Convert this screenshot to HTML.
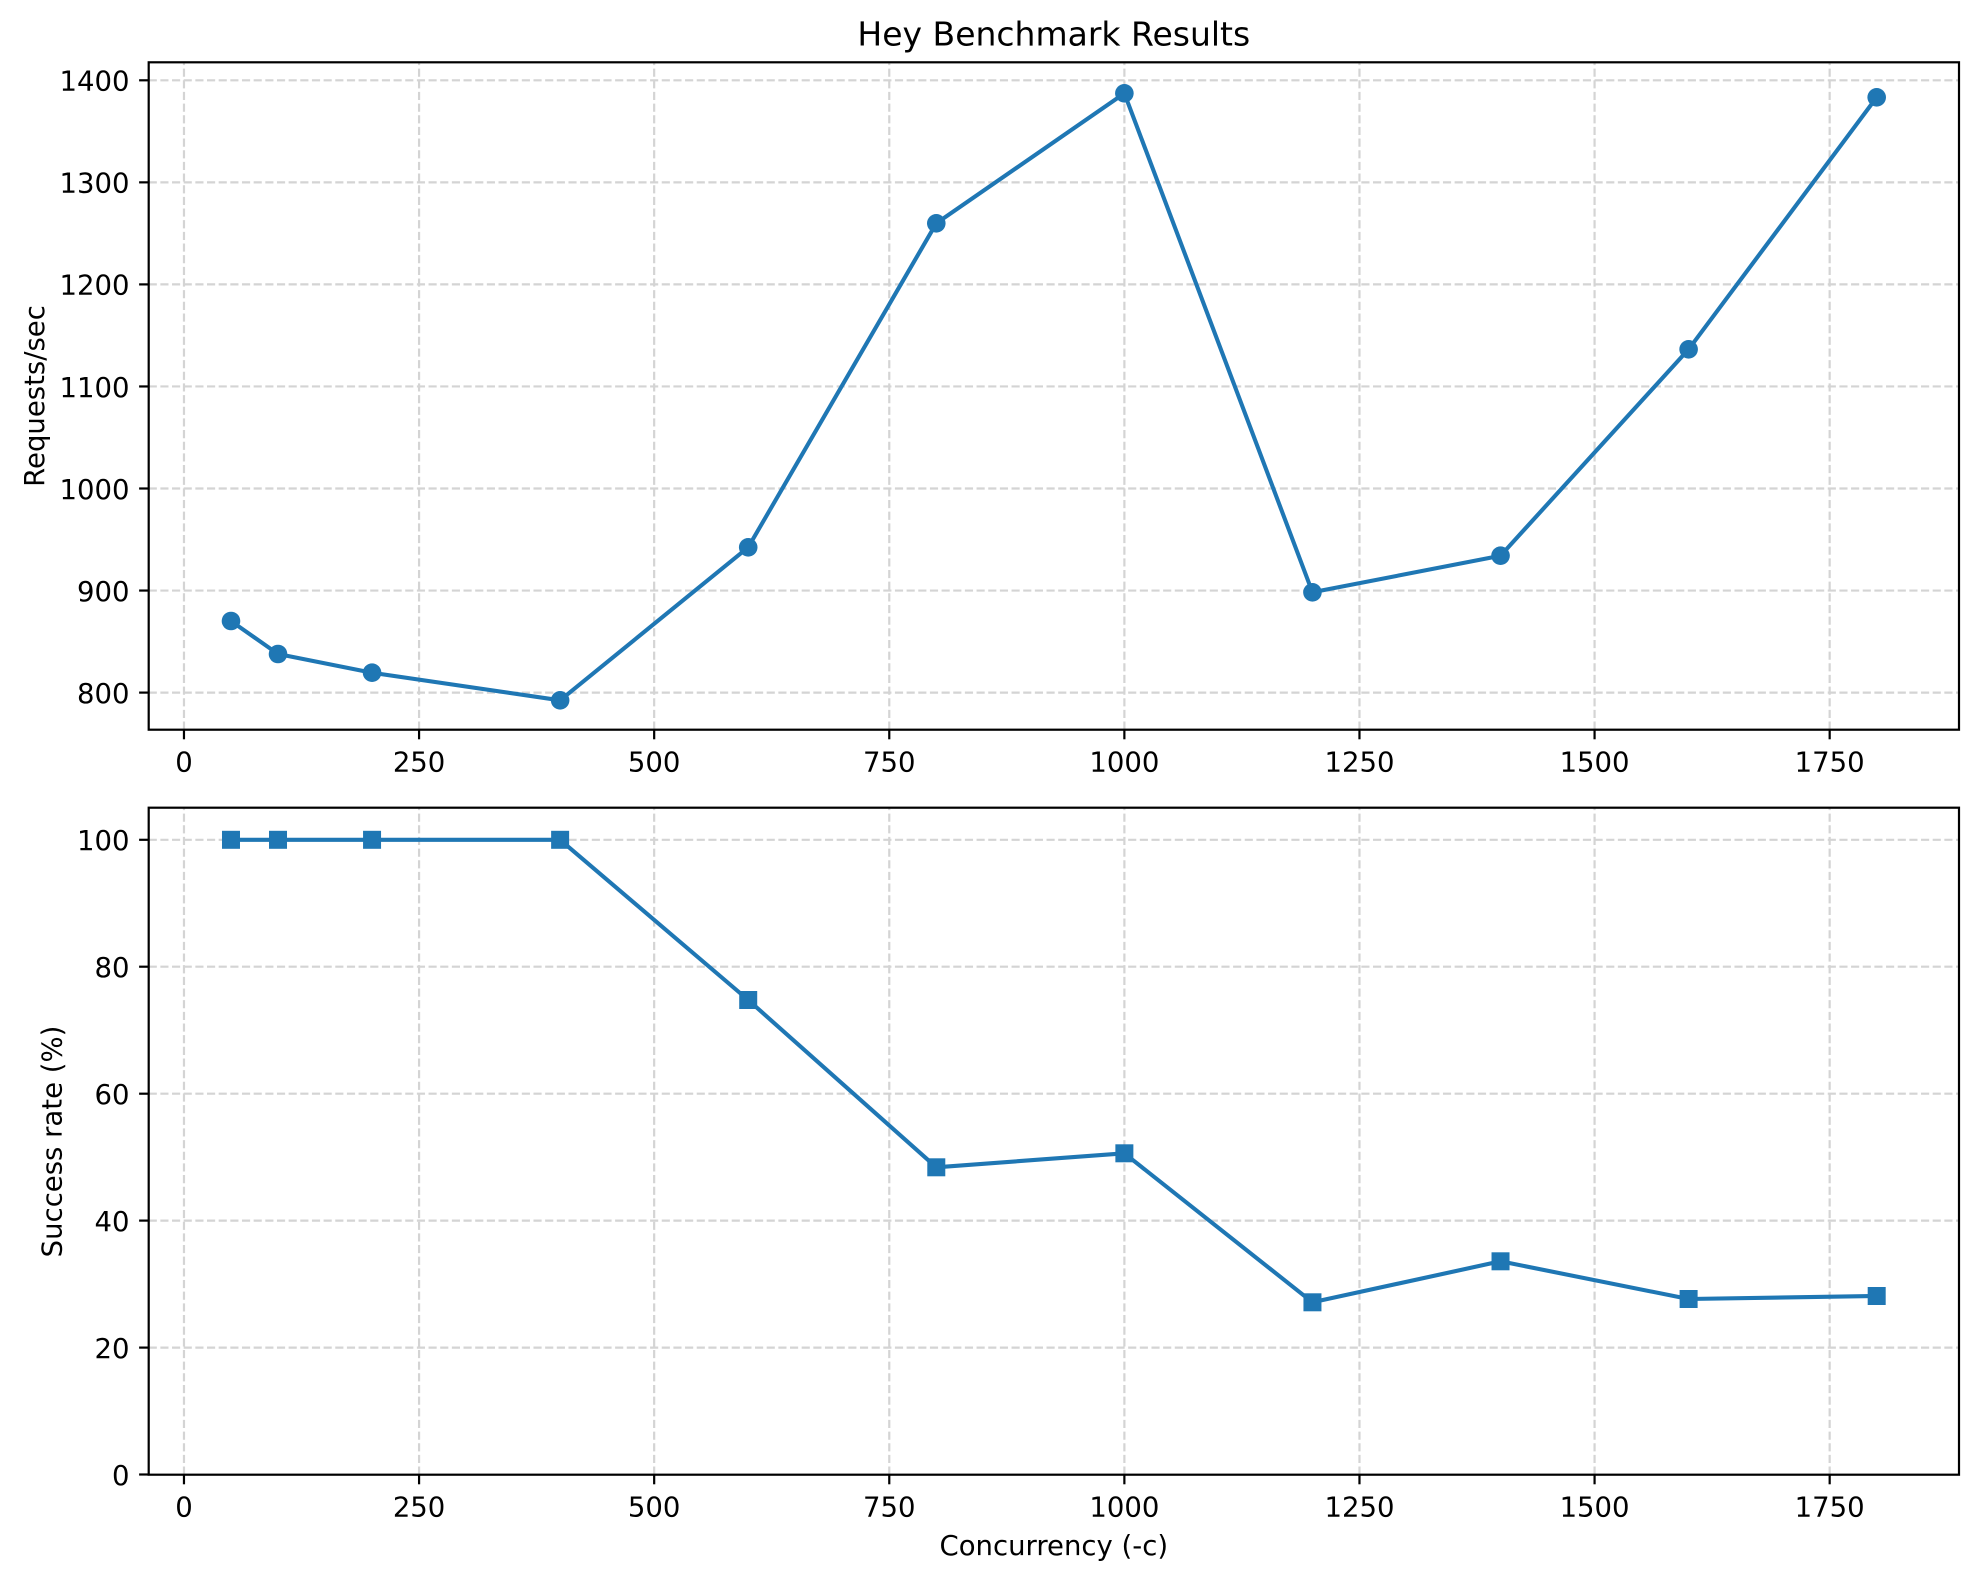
<!DOCTYPE html>
<html>
<head>
<meta charset="utf-8">
<style>
  html, body { margin: 0; padding: 0; background: #ffffff; }
  svg { display: block; }
  text { font-family: "DejaVu Sans", "Liberation Sans", sans-serif; fill: #000; }
</style>
</head>
<body>
<svg width="1979" height="1582" viewBox="0 0 1979 1582" xmlns="http://www.w3.org/2000/svg">
  <rect x="0" y="0" width="1979" height="1582" fill="#ffffff"/>

  <!-- ===== TOP AXES ===== -->
  <g stroke="#d4d4d4" stroke-width="2.2" stroke-dasharray="8.14 3.52" fill="none">
    <line x1="183.97" y1="729.7" x2="183.97" y2="62.3"/>
    <line x1="419.07" y1="729.7" x2="419.07" y2="62.3"/>
    <line x1="654.17" y1="729.7" x2="654.17" y2="62.3"/>
    <line x1="889.27" y1="729.7" x2="889.27" y2="62.3"/>
    <line x1="1124.37" y1="729.7" x2="1124.37" y2="62.3"/>
    <line x1="1359.47" y1="729.7" x2="1359.47" y2="62.3"/>
    <line x1="1594.57" y1="729.7" x2="1594.57" y2="62.3"/>
    <line x1="1829.67" y1="729.7" x2="1829.67" y2="62.3"/>
    <line x1="148.7" y1="80.3" x2="1959" y2="80.3"/>
    <line x1="148.7" y1="182.35" x2="1959" y2="182.35"/>
    <line x1="148.7" y1="284.4" x2="1959" y2="284.4"/>
    <line x1="148.7" y1="386.45" x2="1959" y2="386.45"/>
    <line x1="148.7" y1="488.5" x2="1959" y2="488.5"/>
    <line x1="148.7" y1="590.55" x2="1959" y2="590.55"/>
    <line x1="148.7" y1="692.6" x2="1959" y2="692.6"/>
  </g>
  <polyline fill="none" stroke="#1f77b4" stroke-width="4.1" stroke-linejoin="round" stroke-linecap="square"
    points="230.99,621 278.01,654 372.05,672.7 560.13,700.3 748.21,547.3 936.29,223.3 1124.37,93.3 1312.45,592.3 1500.53,555.7 1688.61,349.3 1876.69,97.3"/>
  <g fill="#1f77b4">
    <circle cx="230.99" cy="621" r="9.3"/>
    <circle cx="278.01" cy="654" r="9.3"/>
    <circle cx="372.05" cy="672.7" r="9.3"/>
    <circle cx="560.13" cy="700.3" r="9.3"/>
    <circle cx="748.21" cy="547.3" r="9.3"/>
    <circle cx="936.29" cy="223.3" r="9.3"/>
    <circle cx="1124.37" cy="93.3" r="9.3"/>
    <circle cx="1312.45" cy="592.3" r="9.3"/>
    <circle cx="1500.53" cy="555.7" r="9.3"/>
    <circle cx="1688.61" cy="349.3" r="9.3"/>
    <circle cx="1876.69" cy="97.3" r="9.3"/>
  </g>
  <rect x="148.7" y="62.3" width="1810.3" height="667.4" fill="none" stroke="#000" stroke-width="2.2"/>
  <g stroke="#000" stroke-width="2.2">
    <line x1="183.97" y1="729.7" x2="183.97" y2="739.3"/>
    <line x1="419.07" y1="729.7" x2="419.07" y2="739.3"/>
    <line x1="654.17" y1="729.7" x2="654.17" y2="739.3"/>
    <line x1="889.27" y1="729.7" x2="889.27" y2="739.3"/>
    <line x1="1124.37" y1="729.7" x2="1124.37" y2="739.3"/>
    <line x1="1359.47" y1="729.7" x2="1359.47" y2="739.3"/>
    <line x1="1594.57" y1="729.7" x2="1594.57" y2="739.3"/>
    <line x1="1829.67" y1="729.7" x2="1829.67" y2="739.3"/>
    <line x1="139.1" y1="80.3" x2="148.7" y2="80.3"/>
    <line x1="139.1" y1="182.35" x2="148.7" y2="182.35"/>
    <line x1="139.1" y1="284.4" x2="148.7" y2="284.4"/>
    <line x1="139.1" y1="386.45" x2="148.7" y2="386.45"/>
    <line x1="139.1" y1="488.5" x2="148.7" y2="488.5"/>
    <line x1="139.1" y1="590.55" x2="148.7" y2="590.55"/>
    <line x1="139.1" y1="692.6" x2="148.7" y2="692.6"/>
  </g>
  <g font-size="27.5" text-anchor="middle">
    <text x="183.97" y="771.3">0</text>
    <text x="419.07" y="771.3">250</text>
    <text x="654.17" y="771.3">500</text>
    <text x="889.27" y="771.3">750</text>
    <text x="1124.37" y="771.3">1000</text>
    <text x="1359.47" y="771.3">1250</text>
    <text x="1594.57" y="771.3">1500</text>
    <text x="1829.67" y="771.3">1750</text>
  </g>
  <g font-size="27.5" text-anchor="end">
    <text x="129.5" y="90.6">1400</text>
    <text x="129.5" y="192.65">1300</text>
    <text x="129.5" y="294.7">1200</text>
    <text x="129.5" y="396.75">1100</text>
    <text x="129.5" y="498.8">1000</text>
    <text x="129.5" y="600.85">900</text>
    <text x="129.5" y="702.9">800</text>
  </g>
  <text x="1053.8" y="45.7" font-size="33" text-anchor="middle">Hey Benchmark Results</text>
  <text transform="translate(44,396) rotate(-90)" font-size="27.5" text-anchor="middle">Requests/sec</text>

  <!-- ===== BOTTOM AXES ===== -->
  <g stroke="#d4d4d4" stroke-width="2.2" stroke-dasharray="8.14 3.52" fill="none">
    <line x1="183.97" y1="1474.7" x2="183.97" y2="807.7"/>
    <line x1="419.07" y1="1474.7" x2="419.07" y2="807.7"/>
    <line x1="654.17" y1="1474.7" x2="654.17" y2="807.7"/>
    <line x1="889.27" y1="1474.7" x2="889.27" y2="807.7"/>
    <line x1="1124.37" y1="1474.7" x2="1124.37" y2="807.7"/>
    <line x1="1359.47" y1="1474.7" x2="1359.47" y2="807.7"/>
    <line x1="1594.57" y1="1474.7" x2="1594.57" y2="807.7"/>
    <line x1="1829.67" y1="1474.7" x2="1829.67" y2="807.7"/>
    <line x1="148.7" y1="1347.6" x2="1959" y2="1347.6"/>
    <line x1="148.7" y1="1220.6" x2="1959" y2="1220.6"/>
    <line x1="148.7" y1="1093.7" x2="1959" y2="1093.7"/>
    <line x1="148.7" y1="966.7" x2="1959" y2="966.7"/>
    <line x1="148.7" y1="839.8" x2="1959" y2="839.8"/>
  </g>
  <polyline fill="none" stroke="#1f77b4" stroke-width="4.1" stroke-linejoin="round" stroke-linecap="square"
    points="230.99,839.8 278.01,839.8 372.05,839.8 560.13,839.8 748.21,1000 936.29,1167.3 1124.37,1153.3 1312.45,1302.3 1500.53,1261.3 1688.61,1299 1876.69,1296"/>
  <g fill="#1f77b4">
    <rect x="221.99" y="830.8" width="18" height="18"/>
    <rect x="269.01" y="830.8" width="18" height="18"/>
    <rect x="363.05" y="830.8" width="18" height="18"/>
    <rect x="551.13" y="830.8" width="18" height="18"/>
    <rect x="739.21" y="991" width="18" height="18"/>
    <rect x="927.29" y="1158.3" width="18" height="18"/>
    <rect x="1115.37" y="1144.3" width="18" height="18"/>
    <rect x="1303.45" y="1293.3" width="18" height="18"/>
    <rect x="1491.53" y="1252.3" width="18" height="18"/>
    <rect x="1679.61" y="1290" width="18" height="18"/>
    <rect x="1867.69" y="1287" width="18" height="18"/>
  </g>
  <rect x="148.7" y="807.7" width="1810.3" height="667" fill="none" stroke="#000" stroke-width="2.2"/>
  <g stroke="#000" stroke-width="2.2">
    <line x1="183.97" y1="1474.7" x2="183.97" y2="1484.3"/>
    <line x1="419.07" y1="1474.7" x2="419.07" y2="1484.3"/>
    <line x1="654.17" y1="1474.7" x2="654.17" y2="1484.3"/>
    <line x1="889.27" y1="1474.7" x2="889.27" y2="1484.3"/>
    <line x1="1124.37" y1="1474.7" x2="1124.37" y2="1484.3"/>
    <line x1="1359.47" y1="1474.7" x2="1359.47" y2="1484.3"/>
    <line x1="1594.57" y1="1474.7" x2="1594.57" y2="1484.3"/>
    <line x1="1829.67" y1="1474.7" x2="1829.67" y2="1484.3"/>
    <line x1="139.1" y1="1474.5" x2="148.7" y2="1474.5"/>
    <line x1="139.1" y1="1347.6" x2="148.7" y2="1347.6"/>
    <line x1="139.1" y1="1220.6" x2="148.7" y2="1220.6"/>
    <line x1="139.1" y1="1093.7" x2="148.7" y2="1093.7"/>
    <line x1="139.1" y1="966.7" x2="148.7" y2="966.7"/>
    <line x1="139.1" y1="839.8" x2="148.7" y2="839.8"/>
  </g>
  <g font-size="27.5" text-anchor="middle">
    <text x="183.97" y="1516.3">0</text>
    <text x="419.07" y="1516.3">250</text>
    <text x="654.17" y="1516.3">500</text>
    <text x="889.27" y="1516.3">750</text>
    <text x="1124.37" y="1516.3">1000</text>
    <text x="1359.47" y="1516.3">1250</text>
    <text x="1594.57" y="1516.3">1500</text>
    <text x="1829.67" y="1516.3">1750</text>
  </g>
  <g font-size="27.5" text-anchor="end">
    <text x="129.5" y="1484.8">0</text>
    <text x="129.5" y="1357.9">20</text>
    <text x="129.5" y="1230.9">40</text>
    <text x="129.5" y="1104">60</text>
    <text x="129.5" y="977">80</text>
    <text x="129.5" y="850.1">100</text>
  </g>
  <text transform="translate(61.7,1141.5) rotate(-90)" font-size="27.5" text-anchor="middle">Success rate (%)</text>
  <text x="1053.8" y="1555" font-size="27.5" text-anchor="middle">Concurrency (-c)</text>
</svg>
</body>
</html>
